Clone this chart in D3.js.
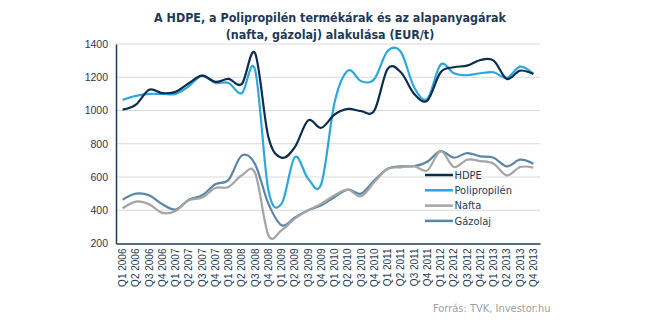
<!DOCTYPE html>
<html>
<head>
<meta charset="utf-8">
<script src="https://cdn.jsdelivr.net/npm/d3@7"></script>
<style>
  html, body { margin: 0; padding: 0; background: #fff; }
  svg { display: block; }
</style>
</head>
<body>
<svg id="chart" width="645" height="328"></svg>
<script>
const categories = [
  "Q1 2006","Q2 2006","Q3 2006","Q4 2006",
  "Q1 2007","Q2 2007","Q3 2007","Q4 2007",
  "Q1 2008","Q2 2008","Q3 2008","Q4 2008",
  "Q1 2009","Q2 2009","Q3 2009","Q4 2009",
  "Q1 2010","Q2 2010","Q3 2010","Q4 2010",
  "Q1 2011","Q2 2011","Q3 2011","Q4 2011",
  "Q1 2012","Q2 2012","Q3 2012","Q4 2012",
  "Q1 2013","Q2 2013","Q3 2013","Q4 2013"
];
const hdpe = [1005,1035,1125,1105,1112,1164,1210,1172,1190,1160,1344,840,716,780,940,896,976,1010,996,1000,1250,1230,1100,1060,1230,1260,1270,1304,1300,1190,1240,1220];
const polipropilen = [1064,1088,1100,1100,1100,1146,1210,1166,1166,1104,1244,520,440,720,590,560,1050,1240,1176,1190,1358,1352,1140,1070,1276,1224,1212,1224,1230,1196,1264,1220];
const nafta = [412,452,436,384,396,460,476,534,540,610,624,250,280,350,400,440,490,524,484,570,650,658,665,640,756,660,704,696,680,610,660,656];
const gazolaj = [464,500,490,436,404,464,490,556,584,730,676,440,310,356,400,430,480,524,500,580,650,664,665,692,756,716,744,724,716,664,704,680];
const seriesNames = ["HDPE","Polipropilén","Nafta","Gázolaj"];
const seriesColors = ["#0c2d4e","#2aa7dc","#a5a5a5","#5a87a8"];
const yTicks = [200,400,600,800,1000,1200,1400];
const titleLines = ["A HDPE, a Polipropilén termékárak és az alapanyagárak","(nafta, gázolaj) alakulása (EUR/t)"];
const sourceText = "Forrás: TVK, Investor.hu";

const seriesData = [hdpe, polipropilen, nafta, gazolaj];

const svg = d3.select("#chart");
const mLeft = 116, mRight = 540, mTop = 44, mBottom = 243.5;
const textColor = "#1d3a57";

const x = d3.scaleBand().domain(categories).range([mLeft, mRight]);
const y = d3.scaleLinear().domain([200, 1400]).range([mBottom, mTop]);

// gridlines
svg.append("g").selectAll("line").data(yTicks.filter(d => d > 200)).join("line")
  .attr("x1", mLeft).attr("x2", mRight)
  .attr("y1", d => y(d)).attr("y2", d => y(d))
  .attr("stroke", "#d9d9d9").attr("stroke-width", 1);

// y axis
const yAxis = svg.append("g").attr("transform", `translate(${mLeft},0)`)
  .call(d3.axisLeft(y).tickValues(yTicks).tickFormat(d3.format("d")).tickSize(0).tickPadding(8));
yAxis.select(".domain").attr("stroke", textColor).attr("stroke-width", 1.5);
yAxis.selectAll("text").attr("fill", textColor).attr("font-family", "Liberation Sans, Arial, sans-serif").attr("font-size", "10.5px");

// x axis
const xAxis = svg.append("g").attr("transform", `translate(0,${mBottom})`)
  .call(d3.axisBottom(x).tickSize(0).tickPadding(0));
xAxis.select(".domain").attr("stroke", textColor).attr("stroke-width", 1.5);
xAxis.selectAll("text")
  .attr("fill", textColor).attr("font-family", "Liberation Sans, Arial, sans-serif").attr("font-size", "10px")
  .attr("text-anchor", "end").attr("dy", "0.35em")
  .attr("transform", "translate(0,5) rotate(-90)")
  .attr("x", 0).attr("y", 0);

// lines
const line = d3.line()
  .x((d, i) => x(categories[i]) + x.bandwidth() / 2)
  .y(d => y(d))
  .curve(d3.curveCardinal.tension(0));

const order = [3, 2, 1, 0];
svg.append("g").selectAll("path").data(order).join("path")
  .attr("d", k => line(seriesData[k]))
  .attr("fill", "none")
  .attr("stroke", k => seriesColors[k])
  .attr("stroke-width", 2.2)
  .attr("stroke-linejoin", "round");

// legend
const lg = svg.append("g");
seriesNames.forEach((n, i) => {
  const ly = 175 + i * 15.3;
  lg.append("line").attr("x1", 425).attr("x2", 453).attr("y1", ly).attr("y2", ly)
    .attr("stroke", seriesColors[i]).attr("stroke-width", 2.5);
  lg.append("text").attr("x", 454.5).attr("y", ly).attr("dy", "0.35em")
    .attr("font-family", "DejaVu Sans Condensed, DejaVu Sans, sans-serif").attr("font-size", "11px")
    .attr("fill", textColor).text(n);
});

// title
svg.append("g").selectAll("text").data(titleLines).join("text")
  .attr("x", 330).attr("y", (d, i) => 22 + i * 16.5)
  .attr("text-anchor", "middle")
  .attr("font-family", "DejaVu Sans Condensed, DejaVu Sans, sans-serif")
  .attr("font-weight", "bold").attr("font-size", "12.4px")
  .attr("fill", textColor).text(d => d);

// source
svg.append("text").attr("x", 433).attr("y", 312)
  .attr("font-family", "DejaVu Sans Condensed, DejaVu Sans, sans-serif").attr("font-size", "11px")
  .attr("fill", "#a0a0a0").text(sourceText);
</script>
</body>
</html>
